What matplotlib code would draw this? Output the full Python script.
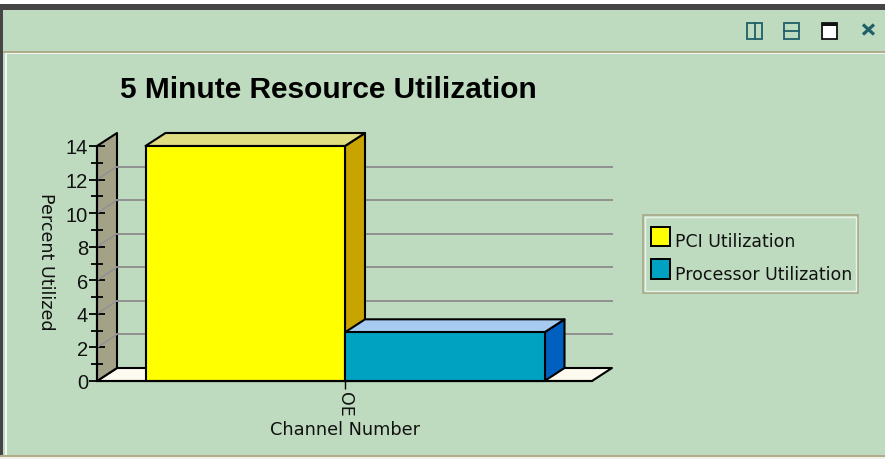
import matplotlib
matplotlib.use('Agg')
import matplotlib.pyplot as plt
from matplotlib.patches import Polygon, Rectangle

plt.rcParams['font.family'] = ['Liberation Sans', 'DejaVu Sans']
SPACED = 'DejaVu Sans'

title = '5 Minute Resource Utilization'
categories = ['OE']
series_names = ['PCI Utilization', 'Processor Utilization']
series_values = [14, 2.9]
front_colors = ['#ffff00', '#00a2c2']
top_colors = ['#e0dc80', '#a6caf0']
side_colors = ['#c8a400', '#0060c0']
y_ticks = [0, 2, 4, 6, 8, 10, 12, 14]
y_minor = [1, 3, 5, 7, 9, 11, 13]
grid_values = [2, 4, 6, 8, 10, 12]

BG = '#bfdbbf'
W, H = 885, 460

fig = plt.figure(figsize=(W / 100, H / 100), dpi=100, facecolor=BG)

# window chrome, in pixels
chrome = fig.add_axes([0, 0, 1, 1], zorder=0)
chrome.set_xlim(0, W)
chrome.set_ylim(H, 0)
chrome.axis('off')
chrome.add_patch(Rectangle((0, 0), W, 5, color='white', lw=0))
chrome.add_patch(Rectangle((0, 5), W, 6, color='#454545', lw=0))
chrome.add_patch(Rectangle((0, 5), 3, H, color='#454545', lw=0))
chrome.add_patch(Rectangle((3, 52), W, 1.5, color='#b0ab88', lw=0))
chrome.add_patch(Rectangle((5, 53.5), W, 1.5, color='#f4f8f4', lw=0))
chrome.add_patch(Rectangle((5, 54), 1.5, H, color='#f4f8f4', lw=0))
chrome.add_patch(Rectangle((0, 456), W, 1.5, color='#b0ab88', lw=0))
chrome.add_patch(Rectangle((0, 457.5), W, 2.5, color='#f2f2ea', lw=0))

# title bar icons
teal = '#1f5f68'
chrome.add_patch(Rectangle((747, 23.5), 15, 16, fc='none', ec=teal, lw=1.3))
chrome.plot([754.5, 754.5], [23.5, 39.5], color=teal, lw=1.3)
chrome.add_patch(Rectangle((784, 23.5), 15, 16, fc='none', ec=teal, lw=1.3))
chrome.plot([784, 799], [31.5, 31.5], color=teal, lw=1.3)
chrome.add_patch(Rectangle((821.5, 23.5), 15, 16, fc='white', ec='#111111', lw=1.3))
chrome.add_patch(Rectangle((821.5, 23.5), 15, 3, color='#111111', lw=0))
chrome.plot([863, 874], [25.5, 35.5], color=teal, lw=2.3, solid_capstyle='butt')
chrome.plot([863, 874], [35.5, 25.5], color=teal, lw=2.3, solid_capstyle='butt')

# legend box
chrome.add_patch(Rectangle((643, 216), 215, 78, fc='none', ec='#a8a888', lw=1.2))
chrome.add_patch(Rectangle((645, 218), 211, 74, fc='none', ec='#e8f2e8', lw=1))
legend_y = [237.5, 270]
for name, color, ly in zip(series_names, front_colors, legend_y):
    chrome.add_patch(Rectangle((650.5, ly - 10), 19, 19.5, fc=color, ec='black', lw=1.4))
    chrome.text(675, ly + 5, name, fontsize=12.5, family=SPACED, color='#111111',
                va='center', ha='left')

chrome.text(120, 90, title, fontsize=21.5, fontweight='bold', color='black', va='center', ha='left')

# plot area
left, right, bottom, top = 97, 592, 382, 147
ax = fig.add_axes([left / W, 1 - bottom / H, (right - left) / W, (bottom - top) / H], zorder=1)
ax.patch.set_alpha(0)
px_x = 199.5
px_y = (bottom - top) / 14
ax.set_xlim((left - 345) / px_x, (right - 345) / px_x)
ax.set_ylim(0, 14)
dx = 20 / px_x
dy = 13 / px_y
x0, x1 = ax.get_xlim()
edge = dict(edgecolor='black', linewidth=1.5, joinstyle='round')

# floor and back wall
ax.add_patch(Polygon([(x0, 0), (x1, 0), (x1 + dx, dy), (x0 + dx, dy)],
                     fc='#fdfbf0', clip_on=False, zorder=1, **edge))
ax.add_patch(Polygon([(x0, 0), (x0 + dx, dy), (x0 + dx, 14 + dy), (x0, 14)],
                     fc='#a3a287', clip_on=False, zorder=1, **edge))
for t in grid_values:
    ax.plot([x0, x0 + dx], [t, t + dy], color='#8f8f9a', lw=1, clip_on=False, zorder=2)
    ax.plot([x0 + dx, x1 + dx], [t + dy, t + dy], color='#8f8f8f', lw=1.4,
            clip_on=False, zorder=2)

positions = [-0.5, 0.5]
for pos, val, fc, tc, sc in zip(positions, series_values, front_colors, top_colors, side_colors):
    a, b = pos - 0.5, pos + 0.5
    ax.add_patch(Polygon([(b, 0), (b + dx, dy), (b + dx, val + dy), (b, val)],
                         fc=sc, clip_on=False, zorder=3, **edge))
    ax.add_patch(Polygon([(a, val), (a + dx, val + dy), (b + dx, val + dy), (b, val)],
                         fc=tc, clip_on=False, zorder=3, **edge))
    ax.bar(pos, val, width=1, color=fc, edgecolor='black', linewidth=1.5, zorder=4, clip_on=False)

for s in ['top', 'right']:
    ax.spines[s].set_visible(False)
for s in ['left', 'bottom']:
    ax.spines[s].set_linewidth(1.5)
    ax.spines[s].set_zorder(5)

ax.set_yticks(y_ticks)
ax.set_yticks(y_minor, minor=True)
ax.tick_params(axis='y', which='major', direction='inout', length=11, width=1.3, labelsize=14.5,
               labelcolor='#111111', pad=1)
ax.tick_params(axis='y', which='minor', direction='inout', length=9, width=1.3)
ax.set_xticks([0])
ax.set_xticklabels(categories, rotation=-90, fontsize=12.5, family=SPACED, color='#111111')
ax.tick_params(axis='x', length=6, width=1, pad=1.5)
ax.set_ylabel('Percent Utilized', rotation=-90, fontsize=12.6, family=SPACED, color='#111111')
ax.yaxis.set_label_coords((46 - left) / (right - left), (bottom - 262) / (bottom - top))
ax.set_xlabel('Channel Number', fontsize=12.8, family=SPACED, color='#111111')
ax.xaxis.set_label_coords((345 - left) / (right - left), -(430 - bottom) / (bottom - top))
ax.xaxis.label.set_va('center')
ax.yaxis.label.set_va('center')

fig.savefig('out.png', dpi=100, facecolor=BG)
